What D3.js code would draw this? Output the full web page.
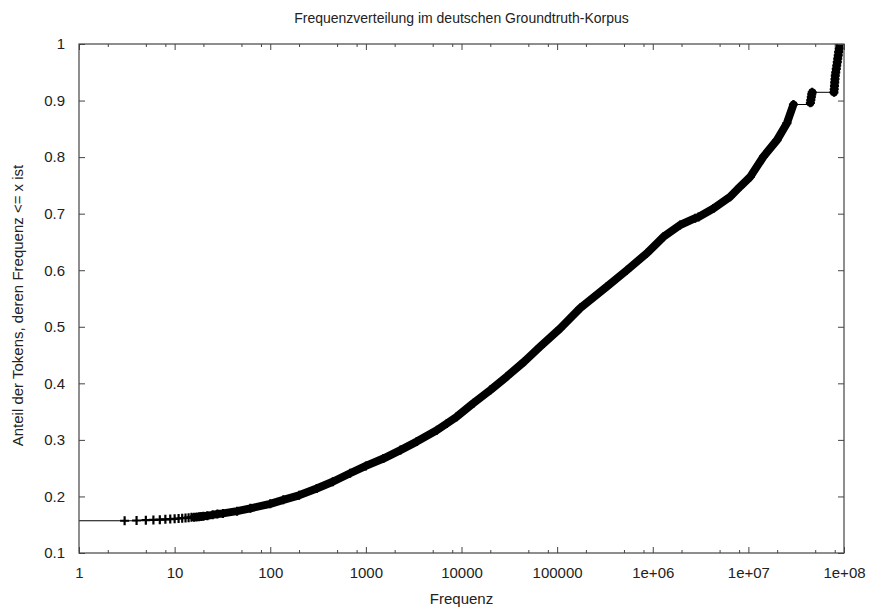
<!DOCTYPE html>
<html>
<head>
<meta charset="utf-8">
<script src="https://cdn.jsdelivr.net/npm/d3@7"></script>
<style>
	body { margin: 0; background: #fff; }
	text { font-family: "Liberation Sans", Arial, Helvetica, sans-serif; fill: #222; }
</style>
</head>
<body>
<script>
	var titleText = "Frequenzverteilung im deutschen Groundtruth-Korpus";
	var xLabelText = "Frequenz";
	var yLabelText = "Anteil der Tokens, deren Frequenz <= x ist";

	var xTicks = [1, 10, 100, 1000, 10000, 100000, 1e6, 1e7, 1e8];
	var xTickLabels = ["1", "10", "100", "1000", "10000", "100000", "1e+06", "1e+07", "1e+08"];
	var xMinorFactors = [2, 5, 8];
	var yTicks = [0.1, 0.2, 0.3, 0.4, 0.5, 0.6, 0.7, 0.8, 0.9, 1];
	var yTickLabels = ["0.1", "0.2", "0.3", "0.4", "0.5", "0.6", "0.7", "0.8", "0.9", "1"];

	// low frequencies, single visible markers
	var lowFreq = [1, 3, 4, 5, 6, 7, 8, 9, 10, 11, 12, 13, 14, 15, 16, 17, 18, 19, 20, 22, 25, 28];
	var lowShare = [0.157, 0.157, 0.1575, 0.158, 0.1585, 0.159, 0.1595, 0.160, 0.1605, 0.161, 0.1615, 0.162, 0.1625, 0.163, 0.1633, 0.1637, 0.164, 0.1645, 0.165, 0.166, 0.1675, 0.169];

	// dense band
	var bandFreq = [32, 45, 62, 100, 137, 200, 306, 450, 684, 1000, 1524, 2300, 3406, 5517, 7020, 8928, 13320, 20000, 29790, 45000, 66400, 107500, 174100, 331100, 535700, 867400, 1294000, 1933000, 2780000, 3010000, 4310000, 6450000, 8210000, 10450000, 14400000, 19900000, 25300000, 29600000];
	var bandShare = [0.170, 0.174, 0.179, 0.187, 0.194, 0.202, 0.214, 0.226, 0.241, 0.254, 0.267, 0.282, 0.297, 0.317, 0.329, 0.341, 0.365, 0.388, 0.412, 0.438, 0.465, 0.497, 0.533, 0.571, 0.600, 0.630, 0.659, 0.680, 0.692, 0.694, 0.709, 0.730, 0.748, 0.765, 0.801, 0.830, 0.860, 0.893];

	// most frequent tokens, two clusters
	var tailFreqA = [44500000, 45000000, 45500000, 46000000, 46500000];
	var tailShareA = [0.896, 0.901, 0.906, 0.911, 0.9146];
	var tailFreqB = [78500000, 79000000, 79500000, 80000000, 80500000, 81000000, 82000000, 83000000, 84000000, 85000000, 86000000, 87000000, 88000000, 89000000, 90000000];
	var tailShareB = [0.9146, 0.920, 0.926, 0.932, 0.938, 0.944, 0.950, 0.956, 0.962, 0.968, 0.974, 0.980, 0.986, 0.992, 1.0];

(function() {
	var width = 876, height = 611;
	var plotLeft = 79, plotRight = 844, plotTop = 44, plotBottom = 553;

	var svg = d3.select("body").append("svg")
		.attr("width", width)
		.attr("height", height);

	var x = d3.scaleLog().domain([1, 1e8]).range([plotLeft, plotRight]);
	var y = d3.scaleLinear().domain([0.1, 1]).range([plotBottom, plotTop]);

	var toPoints = function(fs, vs) {
		return fs.map(function(f, i) { return [f, vs[i]]; });
	};
	var lowPts = toPoints(lowFreq, lowShare);
	var bandPts = toPoints(bandFreq, bandShare);
	var tailA = toPoints(tailFreqA, tailShareA);
	var tailB = toPoints(tailFreqB, tailShareB);
	var allPts = lowPts.concat(bandPts, tailA, tailB);

	var minorTicks = [];
	xTicks.slice(0, -1).forEach(function(t) {
		xMinorFactors.forEach(function(m) { minorTicks.push(t * m); });
	});

	svg.append("clipPath").attr("id", "plot")
		.append("rect")
		.attr("x", plotLeft).attr("y", plotTop)
		.attr("width", plotRight - plotLeft).attr("height", plotBottom - plotTop);

	var plot = svg.append("g").attr("clip-path", "url(#plot)");

	var stepLine = d3.line()
		.x(function(d) { return x(d[0]); })
		.y(function(d) { return y(d[1]); })
		.curve(d3.curveStepAfter);
	var straightLine = d3.line()
		.x(function(d) { return x(d[0]); })
		.y(function(d) { return y(d[1]); });

	// thin connecting line where points are sparse
	[lowPts, [bandPts[bandPts.length - 1]].concat(tailA, tailB)].forEach(function(seg) {
		plot.append("path")
			.datum(seg)
			.attr("fill", "none")
			.attr("stroke", "#000")
			.attr("stroke-width", 1)
			.attr("d", stepLine);
	});

	// thick bands where markers overlap
	var bandLine = lowPts.filter(function(d) { return d[0] >= 16; }).concat(bandPts);
	[bandLine, tailA, tailB].forEach(function(seg) {
		plot.append("path")
			.datum(seg)
			.attr("fill", "none")
			.attr("stroke", "#000")
			.attr("stroke-width", 8)
			.attr("stroke-linejoin", "round")
			.attr("stroke-linecap", "round")
			.attr("d", straightLine);
	});

	plot.selectAll("path.pt")
		.data(allPts.slice(1))
		.enter()
		.append("path")
		.attr("class", "pt")
		.attr("transform", function(d) { return "translate(" + x(d[0]) + "," + y(d[1]) + ")"; })
		.attr("d", "M-4.5,0H4.5M0,-4.5V4.5")
		.attr("stroke", "#000")
		.attr("stroke-width", 2.2);

	// axes, ticks inside on all four sides
	var axisColor = "#444";
	var styleAxis = function(g) {
		g.select(".domain").remove();
		g.selectAll(".tick line").attr("stroke", axisColor);
		g.selectAll(".tick text")
			.style("font-size", "15px")
			.attr("fill", "#222");
	};

	svg.append("g")
		.attr("transform", "translate(0," + plotBottom + ")")
		.call(d3.axisBottom(x).tickValues(xTicks).tickSize(-6).tickPadding(14)
			.tickFormat(function(d, i) { return xTickLabels[i]; }))
		.call(styleAxis);
	svg.append("g")
		.attr("transform", "translate(0," + plotBottom + ")")
		.call(d3.axisBottom(x).tickValues(minorTicks).tickSize(-3).tickFormat(""))
		.call(styleAxis);
	svg.append("g")
		.attr("transform", "translate(0," + plotTop + ")")
		.call(d3.axisTop(x).tickValues(xTicks).tickSize(-6).tickFormat(""))
		.call(styleAxis);
	svg.append("g")
		.attr("transform", "translate(0," + plotTop + ")")
		.call(d3.axisTop(x).tickValues(minorTicks).tickSize(-3).tickFormat(""))
		.call(styleAxis);
	svg.append("g")
		.attr("transform", "translate(" + plotLeft + ",0)")
		.call(d3.axisLeft(y).tickValues(yTicks).tickSize(-6).tickPadding(14)
			.tickFormat(function(d, i) { return yTickLabels[i]; }))
		.call(styleAxis);
	svg.append("g")
		.attr("transform", "translate(" + plotRight + ",0)")
		.call(d3.axisRight(y).tickValues(yTicks).tickSize(-6).tickFormat(""))
		.call(styleAxis);

	svg.append("rect")
		.attr("x", plotLeft).attr("y", plotTop)
		.attr("width", plotRight - plotLeft).attr("height", plotBottom - plotTop)
		.attr("fill", "none")
		.attr("stroke", axisColor)
		.attr("stroke-width", 1.2);

	svg.append("text")
		.attr("x", (plotLeft + plotRight) / 2).attr("y", 23)
		.attr("text-anchor", "middle")
		.style("font-size", "14px")
		.text(titleText);

	svg.append("text")
		.attr("x", (plotLeft + plotRight) / 2).attr("y", 604)
		.attr("text-anchor", "middle")
		.style("font-size", "15px")
		.text(xLabelText);

	svg.append("text")
		.attr("transform", "translate(23," + ((plotTop + plotBottom) / 2 + 7) + ") rotate(-90)")
		.attr("text-anchor", "middle")
		.style("font-size", "15px")
		.text(yLabelText);
}());
</script>
</body>
</html>
